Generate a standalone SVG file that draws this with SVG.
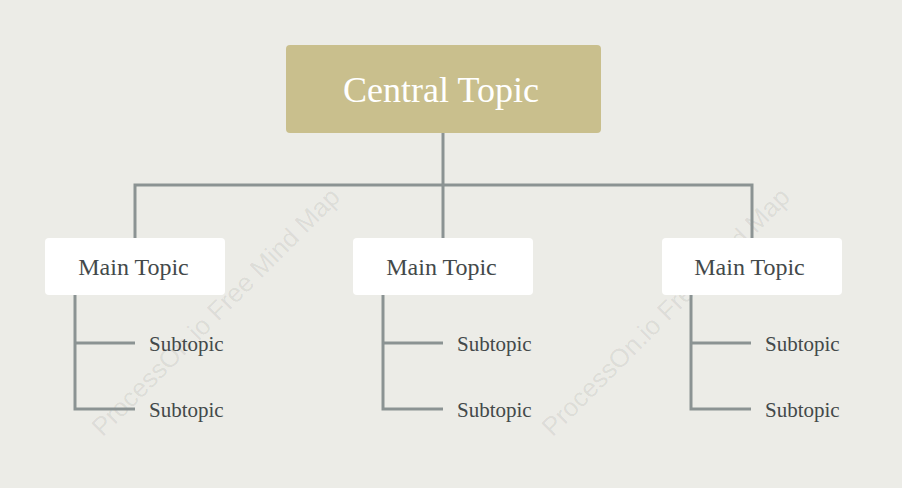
<svg xmlns="http://www.w3.org/2000/svg" width="902" height="488" viewBox="0 0 902 488">
<style>
.bg{fill:#ECECE7}
.central{fill:#C9BF8D}
.main{fill:#FFFFFF}
.ct{font-family:"Liberation Serif","Times New Roman",serif;font-size:36px;fill:#FFFFFF;text-anchor:middle}
.mt{font-family:"Liberation Serif","Times New Roman",serif;font-size:24px;fill:#43494A;text-anchor:middle}
.st{font-family:"Liberation Serif","Times New Roman",serif;font-size:21px;fill:#43494A}
.conn{fill:none;stroke:#8B9393;stroke-width:3}
.wm{font-family:"Liberation Sans",Arial,sans-serif;font-size:26px;fill:#000;fill-opacity:0.08;text-anchor:middle}
</style>
<rect class="bg" x="0" y="0" width="902" height="488"/>
<g id="watermarks">
<text class="wm" transform="translate(222,318) rotate(-45)">ProcessOn.io Free Mind Map</text>
<text class="wm" transform="translate(672,318) rotate(-45)">ProcessOn.io Free Mind Map</text>
</g>
<g id="connectors">
<path class="conn" d="M443,133 V185 M135,238 V185 H752 V238 M443,185 V238"/>
<path class="conn" d="M75,295 V409 H135 M75,343 H135"/>
<path class="conn" d="M383,295 V409 H443 M383,343 H443"/>
<path class="conn" d="M691,295 V409 H751 M691,343 H751"/>
</g>
<g id="central">
<rect class="central" x="286" y="45" width="315" height="88" rx="4"/>
<text class="ct" x="441" y="102">Central Topic</text>
</g>
<g id="main1">
<rect class="main" x="45" y="238" width="180" height="57" rx="4"/>
<text class="mt" x="133.5" y="275">Main Topic</text>
</g>
<g id="main2">
<rect class="main" x="353" y="238" width="180" height="57" rx="4"/>
<text class="mt" x="441.5" y="275">Main Topic</text>
</g>
<g id="main3">
<rect class="main" x="662" y="238" width="180" height="57" rx="4"/>
<text class="mt" x="749.5" y="275">Main Topic</text>
</g>
<g id="sub1a"><text class="st" x="149" y="351">Subtopic</text></g>
<g id="sub1b"><text class="st" x="149" y="417">Subtopic</text></g>
<g id="sub2a"><text class="st" x="457" y="351">Subtopic</text></g>
<g id="sub2b"><text class="st" x="457" y="417">Subtopic</text></g>
<g id="sub3a"><text class="st" x="765" y="351">Subtopic</text></g>
<g id="sub3b"><text class="st" x="765" y="417">Subtopic</text></g>
</svg>
